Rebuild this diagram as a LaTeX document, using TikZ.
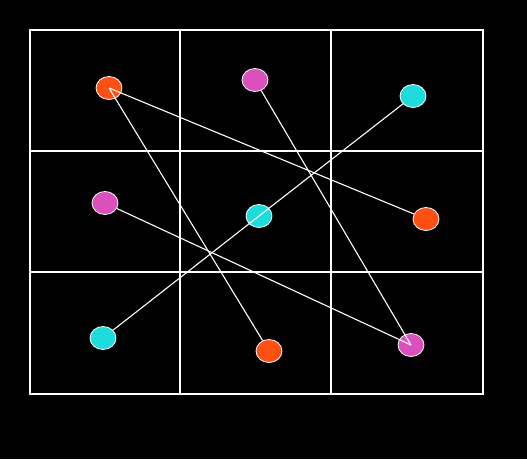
\documentclass[tikz,border=0pt]{standalone}
\usetikzlibrary{shapes.geometric}
\definecolor{dotorange}{RGB}{255,80,20}
\definecolor{dotpink}{RGB}{220,80,190}
\definecolor{dotcyan}{RGB}{30,220,220}
\tikzset{
  dot/.style={ellipse,minimum width=26pt,minimum height=23pt,inner sep=0pt,draw=white,line width=0.8pt},
  link/.style={draw=white,line width=1.1pt},
}
\begin{document}
\begin{tikzpicture}[x=1pt,y=-1pt]
\fill[black] (0,0) rectangle (527,459);
\useasboundingbox (0,0) rectangle (527,459);
\draw[white,line width=1.6pt] (30,30) rectangle (483,394);
\draw[white,line width=1.2pt] (180,30) -- (180,394) (331,30) -- (331,394);
\draw[white,line width=2.4pt] (30,151) -- (483,151) (30,272) -- (483,272);
\node[dot,fill=dotorange] (o1) at (109,88) {};
\node[dot,fill=dotpink] (p1) at (255,80) {};
\node[dot,fill=dotcyan] (c1) at (413,96) {};
\node[dot,fill=dotpink] (p2) at (105,203) {};
\node[dot,fill=dotcyan] (c2) at (259,216) {};
\node[dot,fill=dotorange] (o2) at (426,219) {};
\node[dot,fill=dotcyan] (c3) at (103,338) {};
\node[dot,fill=dotorange] (o3) at (269,351) {};
\node[dot,fill=dotpink] (p3) at (411,345) {};
\draw[link] (o1.center) -- (o2);
\draw[link] (o1.center) -- (o3);
\draw[link] (p1) -- (p3.center);
\draw[link] (p2) -- (p3.center);
\draw[link] (c1) -- (c2.center) -- (c3);
\end{tikzpicture}
\end{document}
